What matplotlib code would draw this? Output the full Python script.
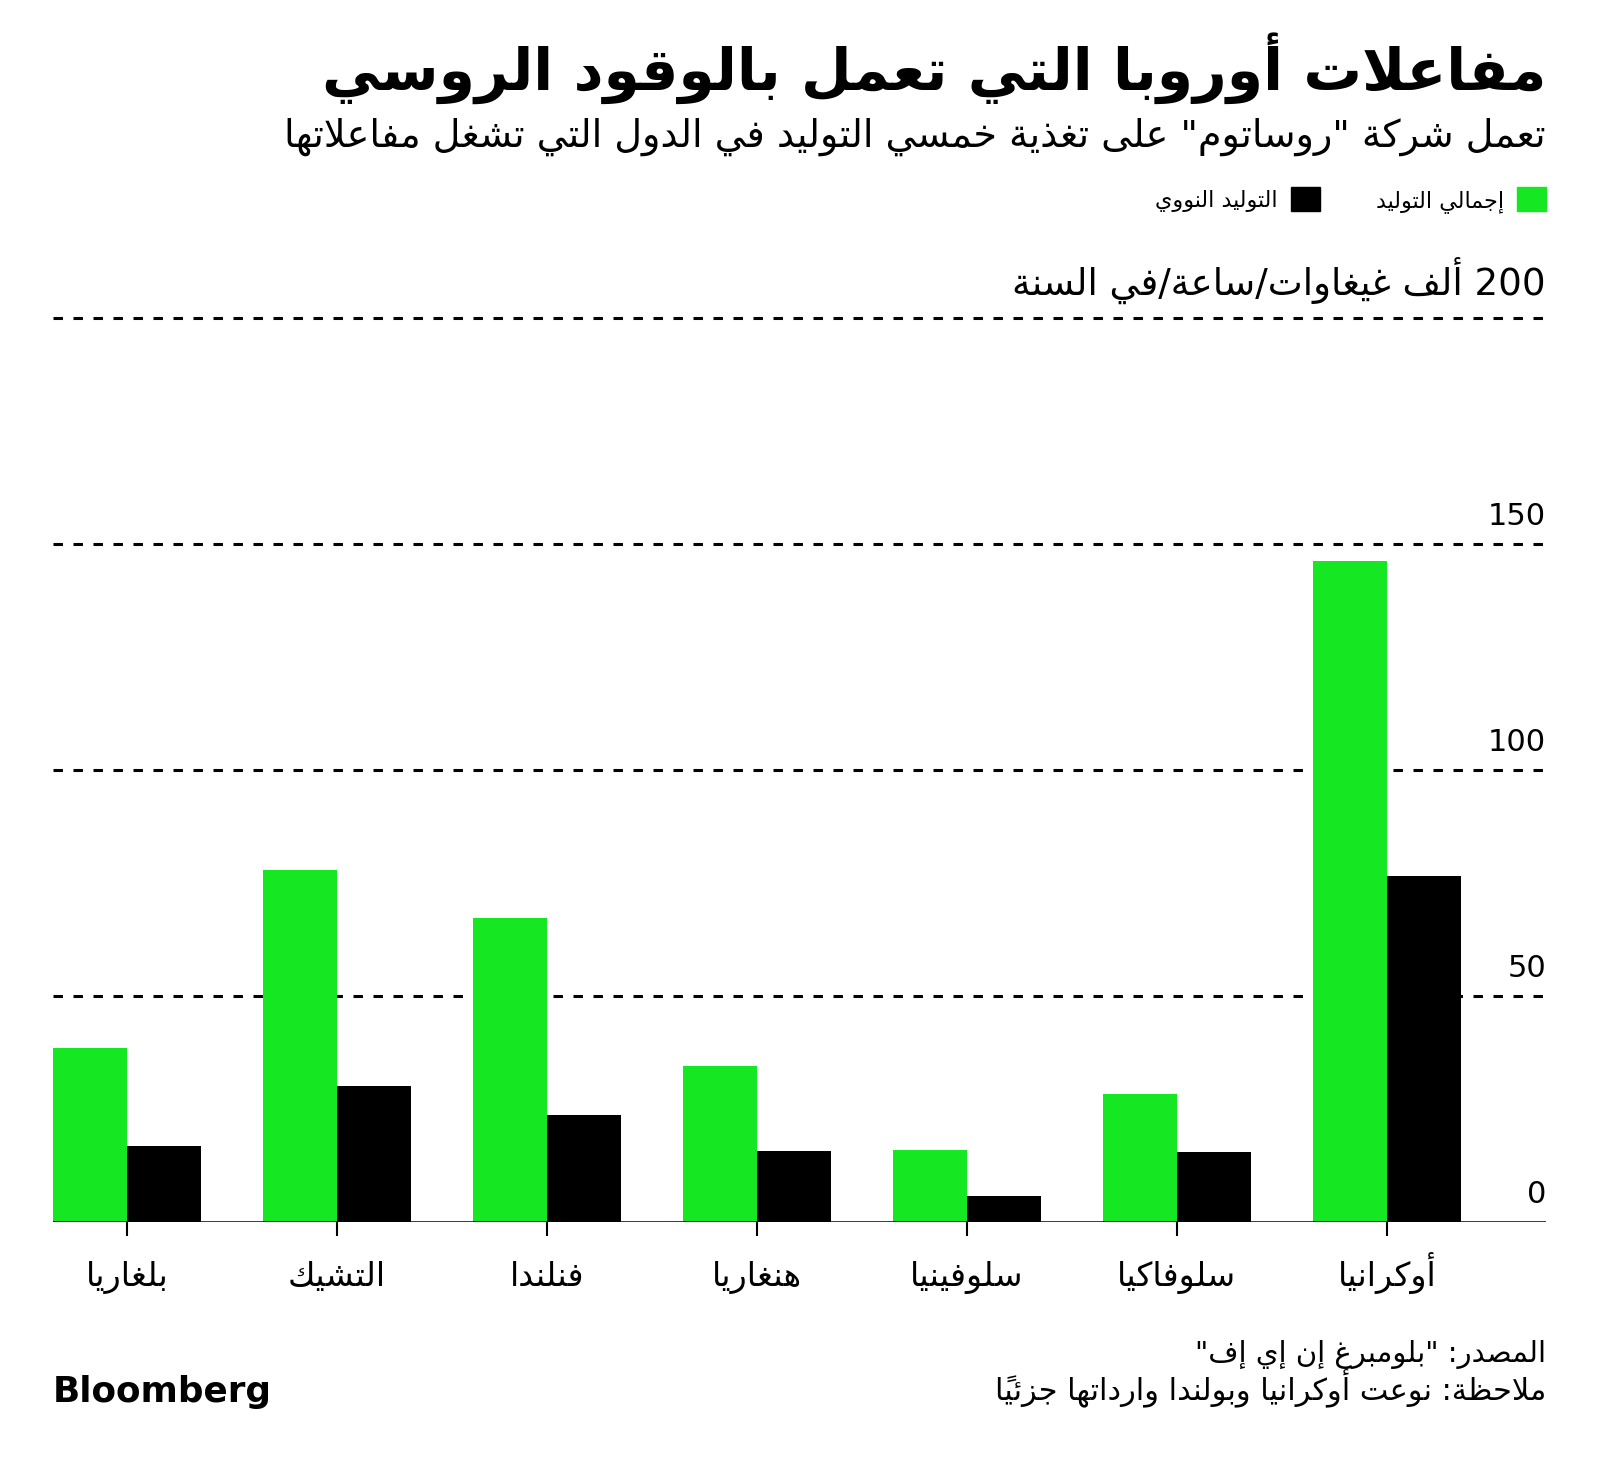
import numpy as np
import matplotlib
matplotlib.use('Agg')
import matplotlib.pyplot as plt
from matplotlib.patches import Patch

# data (thousand GWh per year)
countries = ['بلغاريا', 'التشيك', 'فنلندا', 'هنغاريا', 'سلوفينيا', 'سلوفاكيا', 'أوكرانيا']
total_gen = [38.6, 78.0, 67.3, 34.6, 16.0, 28.4, 146.3]
nuclear_gen = [16.9, 30.1, 23.6, 15.8, 5.8, 15.4, 76.6]
y_ticks = [0, 50, 100, 150]

title = 'مفاعلات أوروبا التي تعمل بالوقود الروسي'
subtitle = 'تعمل شركة "روساتوم" على تغذية خمسي التوليد في الدول التي تشغل مفاعلاتها'
legend_labels = ['إجمالي التوليد', 'التوليد النووي']
unit_label = '200 ألف غيغاوات/ساعة/في السنة'
source = 'المصدر: "بلومبرغ إن إي إف"'
note = 'ملاحظة: نوعت أوكرانيا وبولندا وارداتها جزئياً'

GREEN = '#15e823'
plt.rcParams['font.family'] = ['DejaVu Sans']
plt.rcParams['lines.scale_dashes'] = False

# matplotlib has no arabic shaping -> map letters to presentation forms, then reverse
letters = 'ءآأؤإئابةتثجحخدذرزسشصضطظعغفقكلمنهوىي'
two_forms = 'آأؤإاةدذرزوى'
forms = {}
code = 0xFE80
for ch in letters:
    n = 1 if ch == 'ء' else (2 if ch in two_forms else 4)
    forms[ch] = (code, n)
    code += n
lam_alef = {'آ': 0xFEF5, 'أ': 0xFEF7, 'إ': 0xFEF9, 'ا': 0xFEFB}
marks = set(chr(c) for c in range(0x064B, 0x0653))


def joins_left(ch):
    return ch in forms and forms[ch][1] == 4


def ar(s):
    clusters = []
    prev = None
    i = 0
    while i < len(s):
        ch = s[i]
        if ch in marks:
            clusters[-1] += ch
            i += 1
            continue
        if ch not in forms:
            clusters.append(ch)
            prev = None
            i += 1
            continue
        j = i + 1
        while j < len(s) and s[j] in marks:
            j += 1
        nxt = s[j] if j < len(s) else None
        p = joins_left(prev) if prev else False
        if ch == 'ل' and nxt in lam_alef:
            clusters.append(chr(lam_alef[nxt] + (1 if p else 0)))
            prev = nxt
            i = j + 1
            continue
        base, n = forms[ch]
        p = p and n > 1
        q = n == 4 and nxt in forms and nxt != 'ء'
        idx = 3 if (p and q) else 1 if p else 2 if q else 0
        clusters.append(chr(base + idx))
        prev = ch
        i += 1
    # visual order: keep latin/digit runs left-to-right
    tokens = []
    for c in clusters:
        if c.isascii() and c.isalnum() and tokens and tokens[-1].isascii() and tokens[-1].isalnum():
            tokens[-1] += c
        else:
            tokens.append(c)
    return ''.join(tokens[::-1])


W, H = 1600, 1470
fig = plt.figure(figsize=(16, 14.7), dpi=100)
ax = fig.add_axes([53 / W, 1 - 1222 / H, (1546 - 53) / W, 949 / H])

x = np.arange(len(countries))
w = 0.352
ax.bar(x - w / 2, total_gen, w, color=GREEN, zorder=3)
ax.bar(x + w / 2, nuclear_gen, w, color='black', zorder=3)
ax.set_xlim(-w, -w + 1493 / 210)
ax.set_ylim(0, 210)

for v in [50, 100, 150, 200]:
    ax.axhline(v, color='black', lw=2.2, dashes=(6.8, 7.6), zorder=1)
ax.axhline(0, color='black', lw=1.8, zorder=4)

for s in ax.spines.values():
    s.set_visible(False)
ax.set_yticks([])
ax.set_xticks(x)
ax.set_xticklabels([ar(c) for c in countries], fontsize=24, va='baseline')
ax.tick_params(axis='x', length=10, width=1.5, pad=36)

for v in y_ticks:
    ax.annotate(str(v), xy=(1, v), xycoords=('axes fraction', 'data'), xytext=(0, 14),
                textcoords='offset points', ha='right', va='baseline', fontsize=22)

xr = 1546 / W
texts = []
t = fig.text(xr, 1 - 90 / H, ar(title), ha='right', va='baseline', fontsize=40, fontweight='bold')
texts.append((t, 1222))
t = fig.text(xr, 1 - 147 / H, ar(subtitle), ha='right', va='baseline', fontsize=24)
texts.append((t, 1266))
t = fig.text(xr, 1 - 295 / H, ar(unit_label), ha='right', va='baseline', fontsize=22)
texts.append((t, 533))
t = fig.text(xr, 1 - 1362 / H, ar(source), ha='right', va='baseline', fontsize=20)
texts.append((t, 352))
t = fig.text(xr, 1 - 1400 / H, ar(note), ha='right', va='baseline', fontsize=20)
texts.append((t, 551))
t = fig.text(53 / W, 1 - 1402 / H, 'Bloomberg', ha='left', va='baseline', fontsize=26, fontweight='bold')
texts.append((t, 219))

handles = [Patch(color='black'), Patch(color=GREEN)]
fig.legend(handles, [ar(legend_labels[1]), ar(legend_labels[0])], loc='center right',
           bbox_to_anchor=(xr + 0.0125, 1 - 200 / H), ncol=2, frameon=False, markerfirst=False,
           fontsize=16, handlelength=1.3, handleheight=1.3, handletextpad=0.6, columnspacing=2.5)

# scale the long text lines to the widths they take in the original
fig.canvas.draw()
r = fig.canvas.get_renderer()
for t, target in texts:
    wpx = t.get_window_extent(r).width
    t.set_fontsize(t.get_fontsize() * target / wpx)

fig.savefig('out.png', dpi=100)
